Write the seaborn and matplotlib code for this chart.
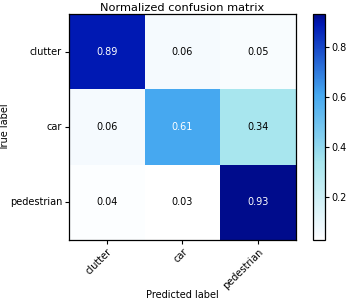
import numpy as np
import pandas as pd
import matplotlib
matplotlib.use("Agg")
import matplotlib.pyplot as plt
from matplotlib.colors import LinearSegmentedColormap
import seaborn as sns

classes = ["clutter", "car", "pedestrian"]
row_clutter = [0.89, 0.06, 0.05]
row_car = [0.06, 0.61, 0.34]
row_pedestrian = [0.04, 0.03, 0.93]

cm = pd.DataFrame([row_clutter, row_car, row_pedestrian], index=classes, columns=classes)

# white -> pale cyan -> sky blue -> royal blue -> navy
cmap = LinearSegmentedColormap.from_list(
    "cm_blues",
    [(0.0, "#ffffff"), (0.033, "#f4fafe"), (0.344, "#a8e6ee"),
     (0.644, "#46a8f0"), (0.956, "#0019b4"), (1.0, "#000c8c")])

plt.rcParams["font.family"] = ["DejaVu Sans"]
fig = plt.figure(figsize=(3.46, 3.0), dpi=100)
ax = fig.add_axes([0.1994, 0.2, 0.656, 0.753])
cax = fig.add_axes([0.9046, 0.2, 0.0347, 0.753])

vals = cm.values
sns.heatmap(cm, ax=ax, cbar_ax=cax, cmap=cmap, vmin=vals.min(), vmax=vals.max(),
            annot=False, square=False)

thresh = vals.max() / 2.0
for i in range(vals.shape[0]):
    for j in range(vals.shape[1]):
        ax.text(j + 0.5, i + 0.5, f"{vals[i, j]:.2f}", ha="center", va="center",
                fontsize=7, color="white" if vals[i, j] > thresh else "black")

for sp in ax.spines.values():
    sp.set_visible(True)
    sp.set_linewidth(0.9)
ax.tick_params(axis="both", length=3, width=0.8, labelsize=7, color="black", pad=2)
ax.set_xticklabels(classes, rotation=45, ha="right", rotation_mode="anchor")
ax.set_yticklabels(classes, rotation=0)
ax.set_title("Normalized confusion matrix", fontsize=8.2, pad=2)
ax.set_xlabel("Predicted label", fontsize=7)
ax.set_ylabel("True label", fontsize=7)
ax.xaxis.set_label_coords(0.5, -0.222)
ax.yaxis.set_label_coords(-0.258, 0.5)

cb = ax.collections[0].colorbar
cb.outline.set_linewidth(0.9)
cb.outline.set_visible(True)
cb.set_ticks([0.2, 0.4, 0.6, 0.8])
cb.ax.tick_params(labelsize=7, length=3, width=0.8, pad=1.5)

fig.savefig("out.png", dpi=100)
